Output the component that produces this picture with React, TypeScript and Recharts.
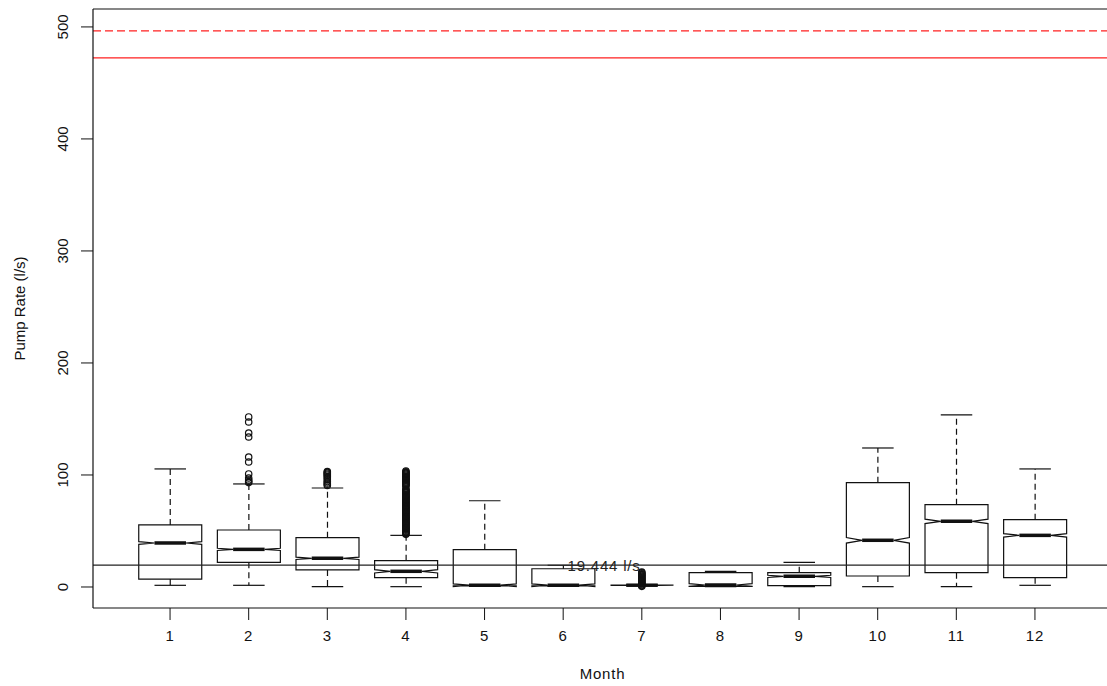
import { ComposedChart, Bar, Scatter, XAxis, YAxis, ReferenceLine, ReferenceDot, Label } from "recharts";

// monthly pump-rate distribution (l/s)
const MONTHS = [1, 2, 3, 4, 5, 6, 7, 8, 9, 10, 11, 12];
const WHISKER_LOW = [1.5, 1.5, 0.3, 0.3, 0.5, 0.5, 1.2, 0.3, 0.3, 0.3, 0.3, 1.5];
const Q1 = [7.1, 22.0, 15.2, 8.3, 1.0, 1.0, 1.4, 0.5, 1.2, 9.8, 12.8, 8.3];
const MEDIAN = [39.3, 33.6, 25.6, 14.0, 1.6, 1.6, 1.6, 1.8, 9.5, 41.7, 58.6, 46.1];
const Q3 = [55.4, 50.9, 44.0, 23.5, 33.3, 16.3, 1.8, 12.8, 12.8, 93.1, 73.5, 60.1];
const WHISKER_HIGH = [105.4, 92.0, 88.4, 46.1, 77.0, 19.4, 2.0, 14.0, 22.0, 124.1, 153.6, 105.4];
// half-height of the median notch
const NOTCH = [1.2, 1.0, 1.0, 1.5, 1.2, 1.2, 0.2, 1.2, 1.0, 2.5, 2.0, 1.5];

const OUTLIERS_FEB = [151.8, 147.3, 137.5, 133.9, 116.0, 111.6, 100.9, 97.3, 95.5, 94.2, 93.2];
const OUTLIERS_MAR = [90.6, 91.8, 92.9, 94.1, 95.6, 97.2, 98.5, 99.8, 100.7, 101.6, 102.4, 103.1];
const OUTLIERS_APR = [
  47.0, 47.8, 48.6, 49.3, 50.1, 50.8, 51.5, 52.3, 53.0, 53.8, 54.6, 55.3, 56.1, 56.8, 57.5, 58.3, 59.0,
  59.8, 60.6, 61.3, 62.1, 62.8, 63.5, 64.3, 65.0, 65.8, 66.6, 67.3, 68.1, 68.8, 69.5, 70.3, 71.0, 71.8,
  72.6, 73.3, 74.1, 74.8, 75.5, 76.3, 77.0, 77.8, 78.6, 79.3, 80.1, 80.8, 81.5, 82.3, 83.0, 83.8, 84.6,
  85.3, 86.1, 86.8, 87.5, 90.2, 90.9, 91.6, 92.4, 93.1, 93.9, 94.7, 95.4, 96.2, 96.9, 97.6, 98.4, 99.1,
  99.9, 100.7, 101.4, 102.1, 102.9, 103.6,
];
const OUTLIERS_JUL = [0.6, 1.3, 2.1, 2.8, 3.6, 4.3, 5.1, 5.8, 6.6, 7.3, 8.1, 8.8, 9.6, 10.3, 11.1, 11.8, 12.6, 13.4];

const Y_TICKS = [0, 100, 200, 300, 400, 500];
const X_DOMAIN = [0.02, 12.98];
const Y_DOMAIN = [-18.75, 516];
const MAX_RATE = 496.4;
const RATED_RATE = 472.3;
const MEAN_RATE = 19.444;
const MEAN_LABEL = "19.444 l/s";
const MEAN_LABEL_X = 6.52;

const FONT = "'Liberation Sans', Arial, sans-serif";
const INK = "#111";

const boxes = MONTHS.map((m, i) => ({
  month: m,
  lo: WHISKER_LOW[i],
  q1: Q1[i],
  med: MEDIAN[i],
  q3: Q3[i],
  hi: WHISKER_HIGH[i],
  notch: NOTCH[i],
}));

const outliers = [
  ...OUTLIERS_FEB.map((v) => ({ month: 2, rate: v })),
  ...OUTLIERS_MAR.map((v) => ({ month: 3, rate: v })),
  ...OUTLIERS_APR.map((v) => ({ month: 4, rate: v })),
  ...OUTLIERS_JUL.map((v) => ({ month: 7, rate: v })),
];

// notched box + dashed whiskers, drawn inside the bar's [lo, hi] rectangle
function BoxShape(props: any) {
  const { x, y, width, height, payload } = props;
  const top = Math.min(y, y + height);
  const span = Math.abs(height);
  const { lo, q1, med, q3, hi, notch } = payload;
  const py = (v: number) => (hi === lo ? top : top + ((hi - v) / (hi - lo)) * span);
  const L = x;
  const R = x + width;
  const cx = x + width / 2;
  const q = width / 4;
  const yMed = py(med);
  const nHi = py(med + notch);
  const nLo = py(med - notch);
  const pts = [
    [L, py(q1)],
    [L, nLo],
    [L + q, yMed],
    [L, nHi],
    [L, py(q3)],
    [R, py(q3)],
    [R, nHi],
    [R - q, yMed],
    [R, nLo],
    [R, py(q1)],
  ]
    .map((p) => p.join(","))
    .join(" ");
  return (
    <g stroke={INK} fill="none" strokeWidth={1.2}>
      <line x1={cx} x2={cx} y1={py(q3)} y2={py(hi)} strokeDasharray="6 4" />
      <line x1={cx} x2={cx} y1={py(q1)} y2={py(lo)} strokeDasharray="6 4" />
      <line x1={cx - q} x2={cx + q} y1={py(hi)} y2={py(hi)} />
      <line x1={cx - q} x2={cx + q} y1={py(lo)} y2={py(lo)} />
      <polygon points={pts} />
      <line x1={L + q} x2={R - q} y1={yMed} y2={yMed} strokeWidth={3.5} />
    </g>
  );
}

function OutlierShape(props: any) {
  const { cx, cy } = props;
  return <circle cx={cx} cy={cy} r={3.2} fill="none" stroke={INK} strokeWidth={1.2} />;
}

function XTick(props: any) {
  const { x, y, payload } = props;
  return (
    <text x={x} y={y} dy="0.71em" textAnchor="middle" fontSize={15} fontFamily={FONT} fill={INK} letterSpacing={0.8}>
      {payload.value}
    </text>
  );
}

function YTick(props: any) {
  const { x, y, payload } = props;
  return (
    <text
      transform={`translate(${x - 10.6}, ${y}) rotate(-90)`}
      textAnchor="middle"
      fontSize={15}
      fontFamily={FONT}
      fill={INK}
    >
      {payload.value}
    </text>
  );
}

function XTitle(props: any) {
  const { viewBox } = props;
  return (
    <text
      x={viewBox.x + viewBox.width / 2}
      y={678.5}
      textAnchor="middle"
      fontSize={15}
      fontFamily={FONT}
      fill={INK}
      letterSpacing={0.8}
    >
      Month
    </text>
  );
}

function YTitle(props: any) {
  const { viewBox } = props;
  return (
    <text
      transform={`translate(24.5, ${viewBox.y + viewBox.height / 2}) rotate(-90)`}
      textAnchor="middle"
      fontSize={15}
      fontFamily={FONT}
      fill={INK}
    >
      Pump Rate (l/s)
    </text>
  );
}

export default function App() {
  return (
    <div
      style={{
        position: "absolute",
        left: 0,
        top: 0,
        width: 1107,
        height: 686,
        overflow: "hidden",
        background: "#fff",
      }}
    >
      <ComposedChart width={1120} height={686} data={boxes} margin={{ top: 9, right: 8, bottom: 0, left: 0 }}>
        <XAxis
          dataKey="month"
          type="number"
          domain={X_DOMAIN}
          allowDataOverflow
          ticks={MONTHS}
          height={78}
          tickSize={12}
          tickMargin={10.5}
          tick={<XTick />}
          axisLine={{ stroke: INK, strokeWidth: 1.2 }}
          tickLine={{ stroke: INK }}
        >
          <Label content={<XTitle />} />
        </XAxis>
        <YAxis
          type="number"
          domain={Y_DOMAIN}
          allowDataOverflow
          ticks={Y_TICKS}
          width={93}
          tickSize={12}
          tick={<YTick />}
          axisLine={{ stroke: INK, strokeWidth: 1.2 }}
          tickLine={{ stroke: INK }}
        >
          <Label content={<YTitle />} />
        </YAxis>
        {/* top edge of the plot frame */}
        <ReferenceLine y={Y_DOMAIN[1]} stroke={INK} strokeWidth={1.2} />
        <ReferenceLine y={MAX_RATE} stroke="#ff2020" strokeWidth={1.2} strokeDasharray="8 4" />
        <ReferenceLine y={RATED_RATE} stroke="#ff2020" strokeWidth={1.2} />
        <ReferenceLine y={MEAN_RATE} stroke="#222" strokeWidth={1.2} />
        <Bar dataKey={(d: any) => [d.lo, d.hi]} barSize={63} shape={<BoxShape />} isAnimationActive={false} />
        <Scatter data={outliers} dataKey="rate" shape={<OutlierShape />} isAnimationActive={false} />
        <ReferenceDot
          x={MEAN_LABEL_X}
          y={MEAN_RATE}
          r={1}
          fill="none"
          stroke="none"
          label={{ value: MEAN_LABEL, position: "center", fontSize: 15, fontFamily: FONT, fill: "#222", letterSpacing: 0.8 }}
        />
      </ComposedChart>
    </div>
  );
}
